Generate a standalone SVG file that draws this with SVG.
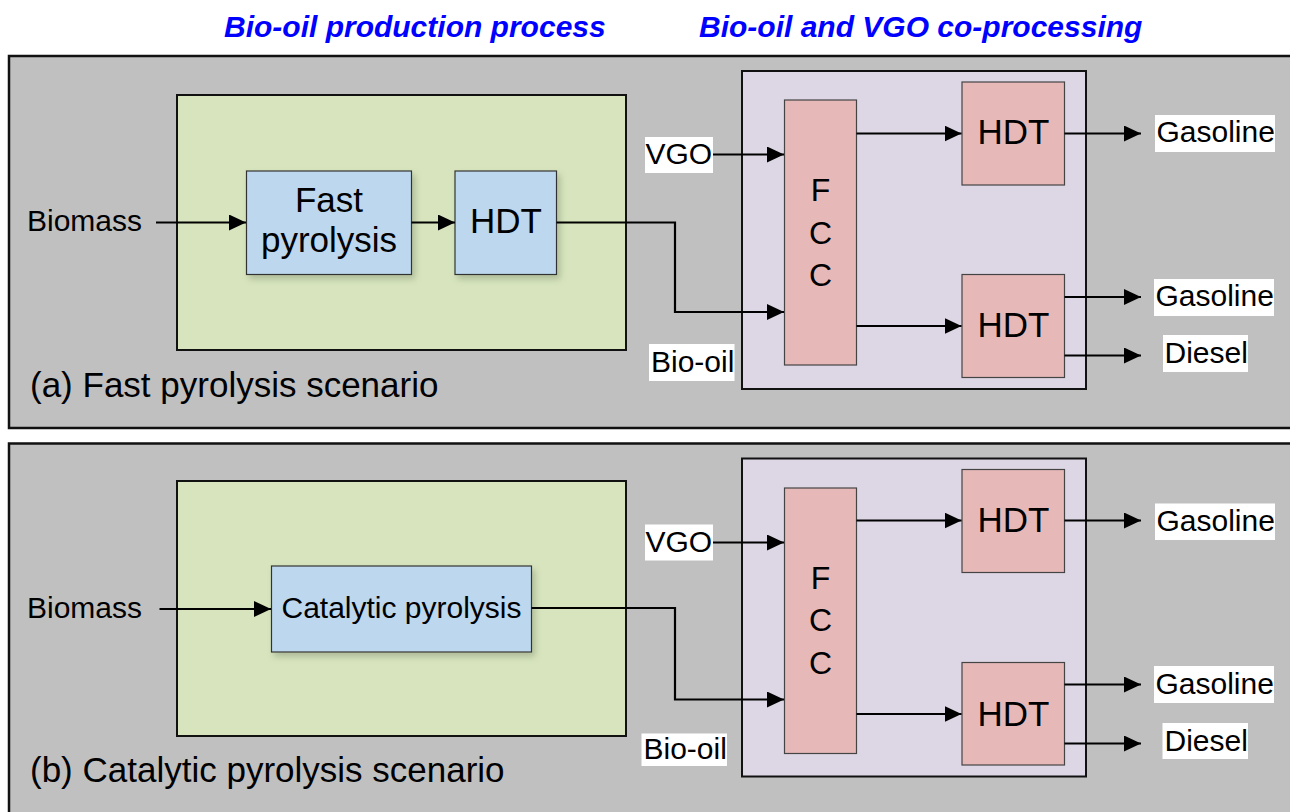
<svg xmlns="http://www.w3.org/2000/svg" width="1290" height="812" viewBox="0 0 1290 812">
<defs>
<marker id="ah" markerUnits="userSpaceOnUse" markerWidth="18" markerHeight="17" refX="17" refY="8" orient="auto">
<path d="M0,0 L17,8 L0,16 z" fill="#000"/>
</marker>
<filter id="sh" x="-10%" y="-10%" width="130%" height="130%">
<feDropShadow dx="3" dy="4" stdDeviation="3" flood-color="#7a8a6a" flood-opacity="0.45"/>
</filter>
<style>
.panel{fill:#c0c0c0;stroke:#111;stroke-width:2.5}
.green{fill:#d7e4bd;stroke:#111;stroke-width:2}
.blue{fill:#bdd7ee;stroke:#333;stroke-width:1.2;filter:url(#sh)}
.purple{fill:#ddd7e5;stroke:#111;stroke-width:2}
.pink{fill:#e6b9b8;stroke:#444;stroke-width:1.2}
.lbl{fill:#fff}
text{font-family:"Liberation Sans",Arial,sans-serif;fill:#000}
.t30{font-size:30px}
.t32{font-size:32px}
.t35{font-size:35px}
.title{font-size:30px;font-weight:bold;font-style:italic;fill:#0000ff}
.mid{text-anchor:middle}
.conn{fill:none;stroke:#000;stroke-width:2.2}
</style>
</defs>
<rect width="1290" height="812" fill="#fff"/>

<g id="titles">
<text class="title" x="224" y="37">Bio-oil production process</text>
<text class="title" x="699" y="37">Bio-oil and VGO co-processing</text>
</g>

<!-- Panel a -->
<g id="panel-a">
<rect class="panel" x="9" y="56" width="1300" height="372"/>
<text class="t35" x="30" y="397">(a) Fast pyrolysis scenario</text>
</g>
<g id="a-production"><rect class="green" x="177" y="95" width="449" height="255"/></g>
<g id="a-coprocessing"><rect class="purple" x="742" y="71" width="344" height="318"/></g>
<g id="a-fast-pyrolysis">
<rect class="blue" x="246.5" y="171" width="165" height="103.5"/>
<text class="t35 mid" x="329" y="212">Fast</text>
<text class="t35 mid" x="329" y="252">pyrolysis</text>
</g>
<g id="a-hdt1">
<rect class="blue" x="455" y="171" width="101.5" height="103.5"/>
<text class="t35 mid" x="506" y="233">HDT</text>
</g>
<g id="a-fcc">
<rect class="pink" x="784.5" y="100" width="72" height="265"/>
<text class="t32 mid" x="820.5" y="201">F</text>
<text class="t32 mid" x="820.5" y="243.5">C</text>
<text class="t32 mid" x="820.5" y="285.5">C</text>
</g>
<g id="a-hdt-top">
<rect class="pink" x="962" y="82" width="102.5" height="103"/>
<text class="t35 mid" x="1013.5" y="143.5">HDT</text>
</g>
<g id="a-hdt-bottom">
<rect class="pink" x="962" y="274.5" width="102.5" height="103"/>
<text class="t35 mid" x="1013.5" y="337">HDT</text>
</g>
<g id="a-biomass"><text class="t30" x="27" y="231">Biomass</text></g>
<g id="a-vgo"><rect class="lbl" x="645" y="137" width="68" height="36"/><text class="t30" x="645.5" y="164">VGO</text></g>
<g id="a-biooil"><rect class="lbl" x="649" y="344" width="85.5" height="37"/><text class="t30" x="651" y="371.5">Bio-oil</text></g>
<g id="a-gasoline1"><rect class="lbl" x="1155" y="115" width="120" height="37"/><text class="t30" x="1156.5" y="142">Gasoline</text></g>
<g id="a-gasoline2"><rect class="lbl" x="1154" y="279" width="120" height="37"/><text class="t30" x="1155.5" y="306">Gasoline</text></g>
<g id="a-diesel"><rect class="lbl" x="1163" y="335" width="85" height="37"/><text class="t30" x="1164.5" y="363">Diesel</text></g>

<!-- Panel b -->
<g id="panel-b">
<rect class="panel" x="9" y="443.5" width="1300" height="380"/>
<text class="t35" x="30" y="782">(b) Catalytic pyrolysis scenario</text>
</g>
<g id="b-production"><rect class="green" x="177" y="481" width="449" height="255"/></g>
<g id="b-coprocessing"><rect class="purple" x="742" y="458.5" width="344" height="318"/></g>
<g id="b-catalytic-pyrolysis">
<rect class="blue" x="271.5" y="566" width="260" height="86"/>
<text class="t30 mid" x="401.5" y="617.5">Catalytic pyrolysis</text>
</g>
<g id="b-fcc">
<rect class="pink" x="784.5" y="488" width="72" height="265.5"/>
<text class="t32 mid" x="820.5" y="588.5">F</text>
<text class="t32 mid" x="820.5" y="631">C</text>
<text class="t32 mid" x="820.5" y="673.5">C</text>
</g>
<g id="b-hdt-top">
<rect class="pink" x="962" y="469.5" width="102.5" height="103"/>
<text class="t35 mid" x="1013.5" y="532">HDT</text>
</g>
<g id="b-hdt-bottom">
<rect class="pink" x="962" y="662.5" width="102.5" height="102.5"/>
<text class="t35 mid" x="1013.5" y="725.5">HDT</text>
</g>
<g id="b-biomass"><text class="t30" x="27" y="618">Biomass</text></g>
<g id="b-vgo"><rect class="lbl" x="645" y="524.5" width="68" height="36"/><text class="t30" x="645.5" y="551.5">VGO</text></g>
<g id="b-biooil"><rect class="lbl" x="641.5" y="733.5" width="85.5" height="32.5"/><text class="t30" x="643.5" y="759">Bio-oil</text></g>
<g id="b-gasoline1"><rect class="lbl" x="1155" y="503.5" width="120" height="36.5"/><text class="t30" x="1156.5" y="530.5">Gasoline</text></g>
<g id="b-gasoline2"><rect class="lbl" x="1154" y="666" width="120" height="37"/><text class="t30" x="1155.5" y="693.5">Gasoline</text></g>
<g id="b-diesel"><rect class="lbl" x="1162.5" y="723" width="85.5" height="36"/><text class="t30" x="1164.5" y="750.5">Diesel</text></g>

<g id="connectors">
<!-- a -->
<path class="conn" d="M156,222.5 H246" marker-end="url(#ah)"/>
<path class="conn" d="M411.5,222.5 H455" marker-end="url(#ah)"/>
<path class="conn" d="M556.5,222.5 H675 V312 H784" marker-end="url(#ah)"/>
<path class="conn" d="M713,154.5 H784" marker-end="url(#ah)"/>
<path class="conn" d="M856.5,133.5 H961.5" marker-end="url(#ah)"/>
<path class="conn" d="M856.5,326 H961.5" marker-end="url(#ah)"/>
<path class="conn" d="M1064.5,133.5 H1141" marker-end="url(#ah)"/>
<path class="conn" d="M1064.5,297 H1141" marker-end="url(#ah)"/>
<path class="conn" d="M1064.5,355.5 H1141" marker-end="url(#ah)"/>
<!-- b -->
<path class="conn" d="M159.5,609 H271" marker-end="url(#ah)"/>
<path class="conn" d="M531.5,608 H675 V699.5 H784" marker-end="url(#ah)"/>
<path class="conn" d="M713,542.5 H784" marker-end="url(#ah)"/>
<path class="conn" d="M856.5,520.5 H961.5" marker-end="url(#ah)"/>
<path class="conn" d="M856.5,714 H961.5" marker-end="url(#ah)"/>
<path class="conn" d="M1064.5,520.5 H1141" marker-end="url(#ah)"/>
<path class="conn" d="M1064.5,684.5 H1141" marker-end="url(#ah)"/>
<path class="conn" d="M1064.5,743.5 H1141" marker-end="url(#ah)"/>
</g>
</svg>
